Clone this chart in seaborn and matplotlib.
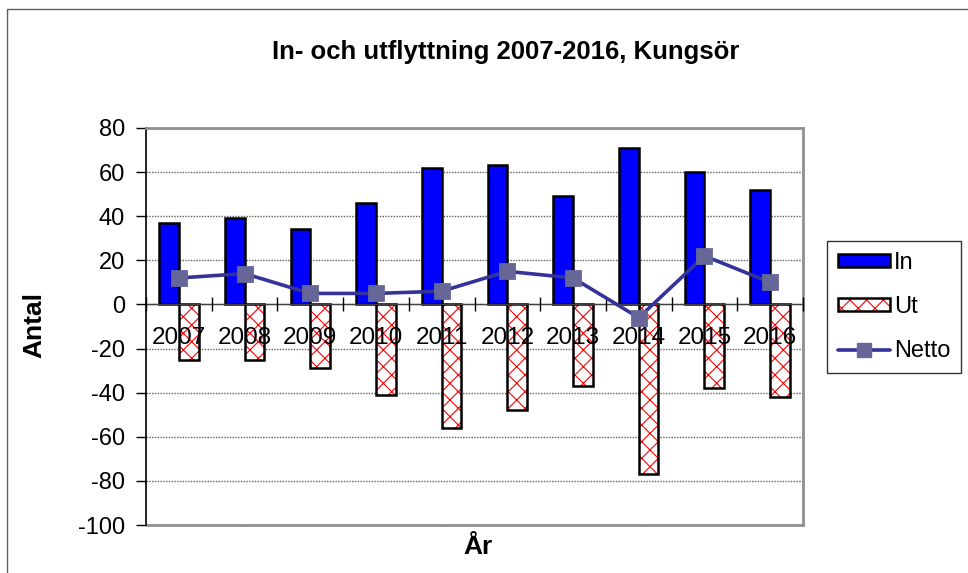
import numpy as np
import pandas as pd
import matplotlib
matplotlib.use("Agg")
import matplotlib.pyplot as plt
from matplotlib.patches import Patch, Rectangle
from matplotlib.lines import Line2D
import seaborn as sns

YEARS = ["2007", "2008", "2009", "2010", "2011", "2012", "2013", "2014", "2015", "2016"]
IN = [37, 39, 34, 46, 62, 63, 49, 71, 60, 52]
UT = [-25, -25, -29, -41, -56, -48, -37, -77, -38, -42]
NETTO = [12, 14, 5, 5, 6, 15, 12, -6, 22, 10]
Y_TICKS = [-100, -80, -60, -40, -20, 0, 20, 40, 60, 80]

sns.set_style("white")
plt.rcParams["font.family"] = ["Liberation Sans", "DejaVu Sans"]
plt.rcParams["hatch.linewidth"] = 0.8
plt.rcParams["axes.unicode_minus"] = False
for key in ["text.color", "axes.labelcolor", "xtick.color", "ytick.color"]:
    plt.rcParams[key] = "black"

bars = pd.DataFrame({
    "year": YEARS * 2,
    "serie": ["In"] * len(YEARS) + ["Ut"] * len(YEARS),
    "value": IN + UT,
})
netto = pd.DataFrame({"year": YEARS, "netto": NETTO})

fig = plt.figure(figsize=(9.68, 5.73), dpi=100)
ax = fig.add_axes([146 / 968, 1 - 525 / 573, 657 / 968, 397 / 573])

sns.barplot(
    data=bars, x="year", y="value", hue="serie",
    palette={"In": "#0000FF", "Ut": "white"},
    saturation=1, width=0.6, edgecolor="black", linewidth=1.8,
    legend=False, ax=ax,
)

# Ut-staplar: rött rutmönster + svart kant ovanpå
for p in ax.containers[1]:
    p.set_hatch("xx")
    p.set_edgecolor("red")
    p.set_linewidth(0)
    ax.add_patch(Rectangle((p.get_x(), p.get_y()), p.get_width(), p.get_height(),
                           fill=False, edgecolor="black", linewidth=1.8, zorder=1.2))

sns.pointplot(
    data=netto, x="year", y="netto", color="#333399",
    markers="s", linestyles="-", errorbar=None, ax=ax,
)
ln = ax.lines[-1]
ln.set_linewidth(2.6)
ln.set_markersize(10)
ln.set_markerfacecolor("#666699")
ln.set_markeredgecolor("#666699")
ln.set_zorder(6)

ax.set_ylim(Y_TICKS[0], Y_TICKS[-1])
ax.set_xlim(-0.5, len(YEARS) - 0.5)
ax.set_yticks(Y_TICKS)
ax.tick_params(axis="y", direction="out", length=7, width=1, color="black",
               labelsize=17, pad=8, left=True)

# x-axeln går genom noll
ax.spines["bottom"].set_position(("data", 0))
ax.spines["bottom"].set_color("#404040")
ax.spines["bottom"].set_linewidth(1)
ax.set_xticks(range(len(YEARS)))
ax.set_xticklabels(YEARS)
ax.set_xticks([i + 0.5 for i in range(-1, len(YEARS))], minor=True)
ax.tick_params(axis="x", which="major", length=0, labelsize=17.5, pad=16)
ax.tick_params(axis="x", which="minor", direction="inout", length=10, width=1,
               color="black", bottom=True)

ax.spines["left"].set_color("black")
ax.spines["left"].set_linewidth(1.2)
for s in ["top", "right"]:
    ax.spines[s].set_color("#909090")
    ax.spines[s].set_linewidth(2)
ax.add_line(Line2D([0, 1], [0, 0], transform=ax.transAxes, color="#909090",
                   linewidth=2, clip_on=False))

ax.yaxis.grid(True, linestyle=(0, (1, 1)), color="#606060", linewidth=1)
ax.yaxis.set_zorder(0.5)
ax.xaxis.set_zorder(3)

ax.set_xlabel("År", fontsize=19, fontweight="bold")
ax.set_ylabel("Antal", fontsize=19, fontweight="bold")
ax.xaxis.set_label_coords(0.505, -0.025)
ax.yaxis.set_label_coords(-0.151, 0.504)

fig.text(506 / 968, 1 - 52 / 573, "In- och utflyttning 2007-2016, Kungsör",
         ha="center", va="center", fontsize=18.5, fontweight="bold")

h_in = Patch(facecolor="#0000FF", edgecolor="black", linewidth=1.8)
h_ut = (Patch(facecolor="white", edgecolor="red", hatch="xx", linewidth=0),
        Patch(fill=False, edgecolor="black", linewidth=1.8))
h_net = Line2D([], [], color="#333399", linewidth=2.6, marker="s", markersize=10,
               markerfacecolor="#666699", markeredgecolor="#666699")
leg = fig.legend([h_in, h_ut, h_net], ["In", "Ut", "Netto"],
                 loc="upper left", bbox_to_anchor=(827 / 968, 1 - 241 / 573),
                 fontsize=17, frameon=True, fancybox=False, handlelength=2.2,
                 handleheight=0.5, handletextpad=0.2, labelspacing=0.95,
                 borderpad=0.45, borderaxespad=0)
leg.get_frame().set_edgecolor("black")
leg.get_frame().set_linewidth(1)

fig.patches.append(Rectangle((7 / 968, -0.05), 1.1, 1 - 9 / 573 + 0.05,
                             transform=fig.transFigure, fill=False,
                             edgecolor="#606060", linewidth=1))

fig.savefig("out.png", dpi=100)
